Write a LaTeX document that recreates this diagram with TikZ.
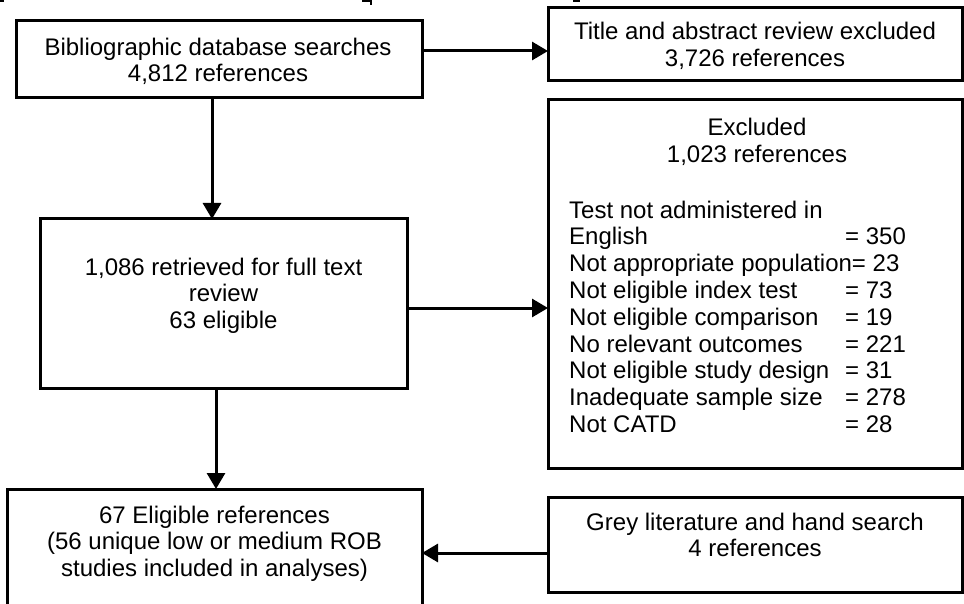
\documentclass[tikz,border=0pt]{standalone}
\usepackage{fontspec}
\setmainfont{Liberation Sans}
\usetikzlibrary{arrows.meta}
\newlength\eqcol
\setlength\eqcol{276pt}
\begin{document}
\begin{tikzpicture}[x=1pt,y=-1pt,
  font=\fontsize{24pt}{26.8pt}\selectfont,
  box/.style={draw, line width=3pt, inner sep=0pt, outer sep=0pt},
  txt/.style={align=center, inner sep=0pt, anchor=north},
  list/.style={align=left, inner sep=0pt, anchor=north west},
  arr/.style={line width=3pt, -{Triangle[length=16pt,width=18pt]}},
  ]
\useasboundingbox (0,0) rectangle (964,604);
\clip (0,0) rectangle (964,604);

% clipped glyph fragments along the upper edge
\fill (0,0) rectangle (4,2.5);
\fill (362,0) rectangle (372,2.5);
\fill (370,0) rectangle (372,5);
\fill (573,0) rectangle (580,2.5);

% boxes
\node[box, minimum width=406pt, minimum height=77pt]  (search) at (219,59.5)   {};
\node[box, minimum width=414pt, minimum height=73pt]  (title)  at (755,44.5)   {};
\node[box, minimum width=414pt, minimum height=368pt] (excl)   at (755,284)    {};
\node[box, minimum width=367pt, minimum height=169pt] (full)   at (223.5,303.5){};
\node[box, minimum width=415pt, minimum height=131pt] (elig)   at (214.5,554.5){};
\node[box, minimum width=414pt, minimum height=95pt]  (grey)   at (755,544.5)  {};

% texts
\node[txt] (searchT) at (218,37.5) {Bibliographic database searches\\4,812 references};
\node[txt] (titleT)  at (755,22)   {Title and abstract review excluded\\3,726 references};
\node[txt] (exclT)   at (757,118)  {Excluded\\1,023 references};
\node[list] (exclL)  at (569,200.5) {%
Test not administered in\\
\makebox[\eqcol][l]{English}= 350\\
Not appropriate population= 23\\
\makebox[\eqcol][l]{Not eligible index test}= 73\\
\makebox[\eqcol][l]{Not eligible comparison}= 19\\
\makebox[\eqcol][l]{No relevant outcomes}= 221\\
\makebox[\eqcol][l]{Not eligible study design}= 31\\
\makebox[\eqcol][l]{Inadequate sample size}= 278\\
\makebox[\eqcol][l]{Not CATD}= 28};
\node[txt] (fullT) at (223.5,257.5) {1,086 retrieved for full text\\review\\63 eligible};
\node[txt] (eligT) at (214.5,505.5) {67 Eligible references\\(56 unique low or medium ROB\\studies included in analyses)};
\node[txt] (greyT) at (755,512.5) {Grey literature and hand search\\4 references};

% connector guides
\coordinate (xa) at (212,0);
\coordinate (xb) at (216,0);
\coordinate (ya) at (0,51);
\coordinate (yb) at (0,308);
\coordinate (yc) at (0,553);

% connectors
\draw[arr] (search.south -| xa) -- (full.north -| xa);
\draw[arr] (search.east |- ya) -- (title.west |- ya);
\draw[arr] (full.east |- yb) -- (excl.west |- yb);
\draw[arr] (full.south -| xb) -- (elig.north -| xb);
\draw[arr] (grey.west |- yc) -- (elig.east |- yc);
\end{tikzpicture}
\end{document}
